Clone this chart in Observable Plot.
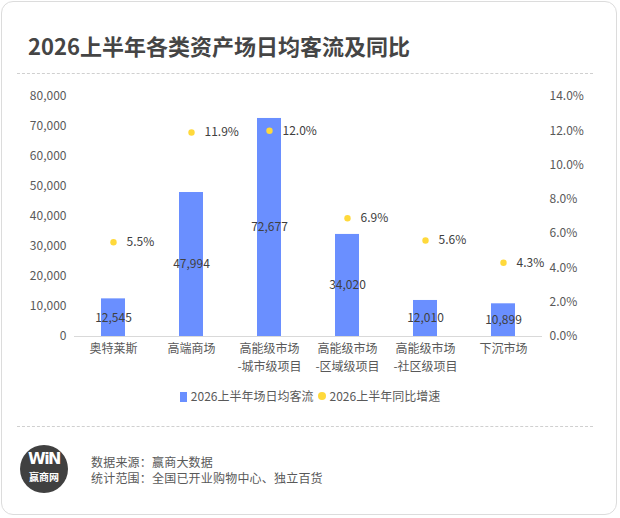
<!DOCTYPE html>
<html>
<head>
<meta charset="utf-8">
<script src="https://cdn.jsdelivr.net/npm/d3@7"></script>
<script src="https://cdn.jsdelivr.net/npm/@observablehq/plot@0.6"></script>
<style>
  html, body { margin: 0; padding: 0; background: #fff; }
  body { width: 620px; height: 518px; position: relative; overflow: hidden;
         font-family: "Noto Sans CJK SC", "Noto Sans", sans-serif; color: #595959; }
  .card { position: absolute; left: 1px; top: 1px; width: 616px; height: 514px;
          border: 1.5px solid #dcdcdc; border-radius: 12px; box-sizing: border-box; }
  .title { position: absolute; left: 28px; top: 30px; font-size: 22px; font-weight: bold;
           color: #454545; white-space: nowrap; line-height: 30px; }
  .dash { position: absolute; left: 17px; width: 576px; border-top: 1px dashed #d0d0d0; }
  #chart { position: absolute; left: 0; top: 80px; }
  .legend { position: absolute; top: 388px; left: 0; width: 620px; text-align: center;
            font-size: 12px; color: #595959; line-height: 16px; white-space: nowrap; }
  .legend span.sq { display: inline-block; width: 7px; height: 10px; background: #6A8FFF; vertical-align: -1px; margin-right: 4px; }
  .legend span.dt { display: inline-block; width: 8px; height: 8px; border-radius: 50%; background: #FFD93B; vertical-align: 1px; margin: 0 4px 0 4px; }
  .logo { position: absolute; left: 20px; top: 445px; width: 48px; height: 48px; border-radius: 50%;
          background: #404040; color: #fff; text-align: center; }
  .logo .w { position: absolute; top: 6px; left: 0; width: 48px; font-size: 16px; font-weight: 900; line-height: 16px; letter-spacing: -1.5px; font-family: "DejaVu Sans", sans-serif; }
  .logo .c { position: absolute; top: 26px; left: 0; width: 48px; font-size: 10px; line-height: 12px; font-weight: bold; }
  .foot { position: absolute; left: 91px; top: 454px; font-size: 12px; line-height: 16px; color: #595959; white-space: nowrap; letter-spacing: 0.2px; }
</style>
</head>
<body>
<div class="card"></div>
<div class="title">2026上半年各类资产场日均客流及同比</div>
<div class="dash" style="top:73px"></div>
<div id="chart"></div>
<div class="legend"><span class="sq"></span>2026上半年场日均客流<span class="dt"></span>2026上半年同比增速</div>
<div class="dash" style="top:426px"></div>
<div class="logo"><div class="w">WiN</div><div class="c">赢商网</div></div>
<div class="foot">数据来源：赢商大数据<br>统计范围：全国已开业购物中心、独立百货</div>
<script>
const categories = ["奥特莱斯", "高端商场", "高能级市场\n-城市级项目", "高能级市场\n-区域级项目", "高能级市场\n-社区级项目", "下沉市场"];
const flows = [12545, 47994, 72677, 34020, 12010, 10899];
const growth = [5.5, 11.9, 12.0, 6.9, 5.6, 4.3];
const leftTicks = [0, 10000, 20000, 30000, 40000, 50000, 60000, 70000, 80000];
const rightTicks = [0, 2, 4, 6, 8, 10, 12, 14];

const leftMax = 80000, rightMax = 14;
const k = leftMax / rightMax;
const data = categories.map((c, i) => ({cat: c, flow: flows[i], pct: growth[i]}));
const fmt = d3.format(",");

const chart = Plot.plot({
  width: 620,
  height: 300,
  marginLeft: 74,
  marginRight: 78,
  marginTop: 16,
  marginBottom: 44,
  style: {fontFamily: '"Noto Sans CJK SC", "Noto Sans", sans-serif', fontSize: "12px", color: "#595959", background: "transparent"},
  x: {domain: categories, paddingInner: 0.69, paddingOuter: 0.345},
  y: {domain: [0, leftMax]},
  marks: [
    Plot.axisY({ticks: leftTicks, tickFormat: d => fmt(d), tickSize: 0, tickPadding: 8, label: null, fill: "#595959"}),
    Plot.axisY({anchor: "right", ticks: rightTicks.map(v => v * k), tickFormat: d => (d / k).toFixed(1) + "%", tickSize: 0, tickPadding: 7, label: null, fill: "#595959"}),
    Plot.axisX({tickSize: 0, tickPadding: 8, label: null, tickFormat: d => d.split("\n")[0], fill: "#595959"}),
    Plot.axisX({tickSize: 0, tickPadding: 26, label: null, tickFormat: d => d.split("\n")[1] || "", fill: "#595959"}),
    Plot.barY(data, {x: "cat", y: "flow", fill: "#6A8FFF"}),
    Plot.ruleY([0], {stroke: "#d9d9d9", strokeWidth: 1}),
    Plot.text(data, {x: "cat", y: d => d.flow / 2, text: d => fmt(d.flow), fill: "#404040", fontSize: 12}),
    Plot.dot(data, {x: "cat", y: d => d.pct * k, r: 3.2, fill: "#FFD93B", stroke: "none"}),
    Plot.text(data, {x: "cat", y: d => d.pct * k, text: d => d.pct.toFixed(1) + "%", dx: 13, textAnchor: "start", fill: "#404040", fontSize: 12})
  ]
});
document.getElementById("chart").appendChild(chart);
</script>
</body>
</html>
